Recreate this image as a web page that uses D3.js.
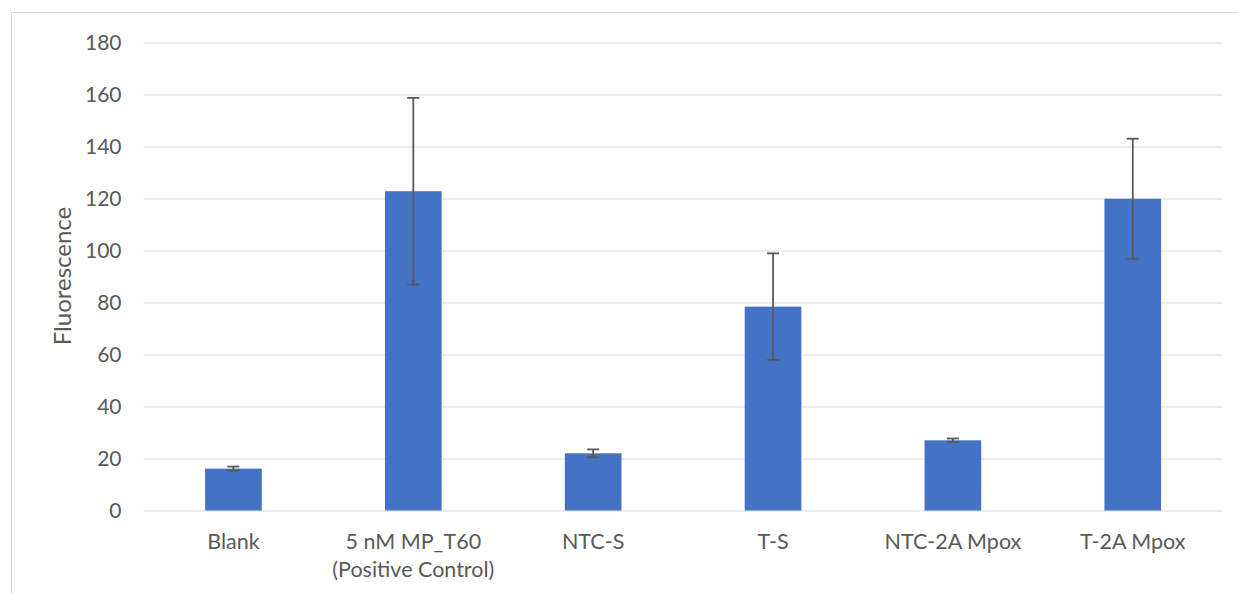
<!DOCTYPE html>
<html>
<head>
<meta charset="utf-8">
<script src="https://cdn.jsdelivr.net/npm/d3@7"></script>
<style>
  html, body { margin: 0; padding: 0; background: #ffffff; }
  svg { display: block; }
  text { font-family: Lato, "Open Sans", sans-serif; fill: #595959; }
</style>
</head>
<body>
<script>
const categories = ["Blank", "5 nM MP_T60\n(Positive Control)", "NTC-S", "T-S", "NTC-2A Mpox", "T-2A Mpox"];
const values = [16.1, 122.8, 22.0, 78.4, 27.0, 119.9];
const errors = [0.8, 35.9, 1.5, 20.5, 0.7, 23.1];
const yTicks = [0, 20, 40, 60, 80, 100, 120, 140, 160, 180];
const yTitle = "Fluorescence";

const W = 1238, H = 594;
const margin = { left: 143.5, right: 1222.7, top: 42.5, bottom: 510.5 };

const svg = d3.select("body").append("svg").attr("width", W).attr("height", H);

// chart border (top and left visible)
svg.append("path")
  .attr("d", `M11.5,${H} L11.5,12.5 L${W},12.5`)
  .attr("fill", "none").attr("stroke", "#d9d9d9").attr("stroke-width", 1);

const x = d3.scaleBand().domain(categories).range([margin.left, margin.right]).paddingInner(0).paddingOuter(0);
const y = d3.scaleLinear().domain([0, 180]).range([margin.bottom, margin.top]);

// gridlines
const yAxis = d3.axisLeft(y).tickValues(yTicks).tickSize(-(margin.right - margin.left)).tickPadding(22);
const gy = svg.append("g").attr("transform", `translate(${margin.left},0)`).call(yAxis);
gy.select(".domain").remove();
gy.selectAll(".tick line").attr("stroke", "#d9d9d9").attr("stroke-width", 1.2);
gy.selectAll(".tick text").attr("font-size", "21px").attr("fill", "#595959")
  .attr("font-family", "Lato, 'Open Sans', sans-serif");

// bars
const barW = x.bandwidth() * 0.315;
const data = categories.map((c, i) => ({ c, v: values[i], e: errors[i] }));
svg.append("g").selectAll("rect").data(data).join("rect")
  .attr("x", d => x(d.c) + x.bandwidth() / 2 - barW / 2)
  .attr("width", barW)
  .attr("y", d => y(d.v))
  .attr("height", d => y(0) - y(d.v))
  .attr("fill", "#4472c4");

// error bars
const eg = svg.append("g").attr("stroke", "#595959").attr("stroke-width", 1.8).attr("fill", "none");
data.forEach(d => {
  const cx = x(d.c) + x.bandwidth() / 2;
  const y1 = y(d.v + d.e), y2 = y(d.v - d.e);
  eg.append("line").attr("x1", cx).attr("x2", cx).attr("y1", y1).attr("y2", y2);
  eg.append("line").attr("x1", cx - 6).attr("x2", cx + 6).attr("y1", y1).attr("y2", y1);
  eg.append("line").attr("x1", cx - 6).attr("x2", cx + 6).attr("y1", y2).attr("y2", y2);
});

// x axis labels
const xAxis = d3.axisBottom(x).tickSize(0).tickFormat("");
const gx = svg.append("g").attr("transform", `translate(0,${margin.bottom})`).call(xAxis);
gx.select(".domain").remove();
gx.selectAll(".tick").each(function(d) {
  const lines = d.split("\n");
  const t = d3.select(this).append("text")
    .attr("text-anchor", "middle")
    .attr("font-size", "21.5px")
    .attr("fill", "#595959");
  lines.forEach((ln, i) => {
    t.append("tspan").attr("x", 0).attr("y", 38.5 + i * 27.5).text(ln);
  });
});

// y title
svg.append("text")
  .attr("transform", `translate(70.5,276) rotate(-90)`)
  .attr("text-anchor", "middle")
  .attr("font-size", "24px")
  .text(yTitle);
</script>
</body>
</html>
